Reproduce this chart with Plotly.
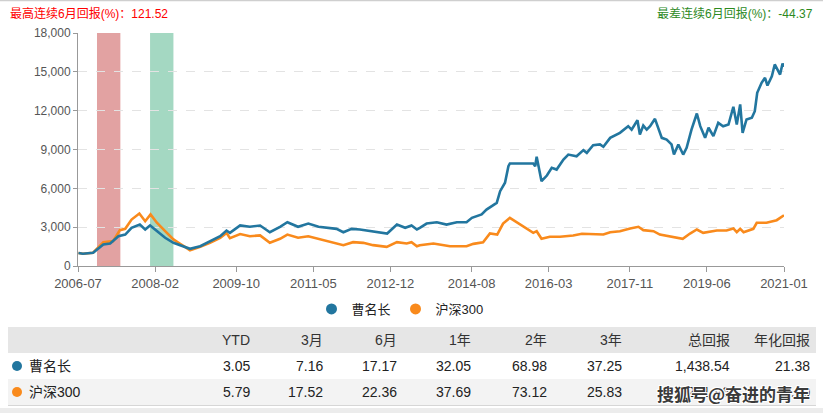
import plotly.graph_objects as go

# ---------------- data ----------------
fund_name = "曹名长"
index_name = "沪深300"

# x values are decimal years
fund_x = [2006.51, 2006.60, 2006.81, 2007.02, 2007.16, 2007.33, 2007.47, 2007.60, 2007.77, 2007.88,
          2007.98, 2008.12, 2008.29, 2008.46, 2008.66, 2008.80, 2009.01, 2009.21, 2009.42, 2009.55,
          2009.62, 2009.83, 2010.03, 2010.24, 2010.44, 2010.65, 2010.80, 2011.02, 2011.23, 2011.44,
          2011.68, 2011.81, 2011.95, 2012.12, 2012.29, 2012.50, 2012.70, 2012.85, 2013.05, 2013.22,
          2013.35, 2013.46, 2013.52, 2013.66, 2013.87, 2014.07, 2014.28, 2014.48, 2014.59, 2014.79,
          2014.89, 2015.10, 2015.17, 2015.27, 2015.34, 2015.37, 2015.85, 2015.89, 2015.92, 2016.02,
          2016.13, 2016.23, 2016.33, 2016.47, 2016.57, 2016.74, 2016.88, 2016.95, 2017.08, 2017.22,
          2017.29, 2017.43, 2017.63, 2017.80, 2017.87, 2017.99, 2018.04, 2018.11, 2018.18, 2018.25,
          2018.35, 2018.42, 2018.49, 2018.59, 2018.69, 2018.74, 2018.83, 2018.93, 2019.00, 2019.10,
          2019.21, 2019.28, 2019.38, 2019.45, 2019.55, 2019.65, 2019.75, 2019.86, 2019.96, 2020.03,
          2020.10, 2020.15, 2020.23, 2020.34, 2020.40, 2020.45, 2020.54, 2020.61, 2020.66, 2020.75,
          2020.81, 2020.92, 2020.97, 2021.00]
fund_y = [1000, 950, 1020, 1660, 1740, 2300, 2430, 2950, 3200, 2820,
          3130, 2690, 2180, 1790, 1530, 1330, 1530, 1920, 2300, 2740,
          2560, 3130, 3030, 3130, 2610, 3030, 3380, 3030, 3280, 3030,
          2950, 2870, 2610, 2870, 2820, 2690, 2560, 2510, 3200, 2950,
          3130, 2820, 2950, 3280, 3380, 3200, 3380, 3380, 3720, 3980,
          4360, 4880, 5780, 6430, 7710, 7920, 7920, 7710, 8440, 6550,
          6990, 7590, 7450, 8230, 8610, 8480, 8950, 8740, 9330, 9390,
          9210, 9900, 10290, 10800, 10540, 11260, 10160, 10850, 10540, 10800,
          11370, 10540, 9900, 9770, 9390, 8610, 9390, 8610, 9130, 10540,
          11780, 10800, 9900, 10680, 10030, 11060, 10800, 10930, 12300, 10930,
          12480, 10290, 11320, 11450, 11960, 13380, 14150, 14540, 13940, 14660,
          15570, 14790, 15650, 15385]

index_x = [2006.51, 2006.60, 2006.81, 2007.02, 2007.22, 2007.36, 2007.47, 2007.60, 2007.76, 2007.88,
           2007.99, 2008.12, 2008.29, 2008.46, 2008.59, 2008.80, 2009.01, 2009.21, 2009.42, 2009.55,
           2009.62, 2009.83, 2010.03, 2010.24, 2010.44, 2010.65, 2010.80, 2011.02, 2011.23, 2011.47,
           2011.68, 2011.95, 2012.15, 2012.36, 2012.56, 2012.84, 2013.05, 2013.25, 2013.35, 2013.46,
           2013.52, 2013.80, 2014.14, 2014.48, 2014.62, 2014.82, 2014.96, 2015.11, 2015.23, 2015.37,
           2015.85, 2015.92, 2016.02, 2016.19, 2016.40, 2016.67, 2016.85, 2017.08, 2017.29, 2017.43,
           2017.63, 2017.84, 2018.01, 2018.11, 2018.32, 2018.45, 2018.66, 2018.92, 2019.07, 2019.21,
           2019.34, 2019.62, 2019.82, 2019.96, 2020.03, 2020.10, 2020.17, 2020.37, 2020.44, 2020.64,
           2020.85, 2021.00]
index_y = [1000, 950, 1030, 1840, 1920, 2770, 2870, 3590, 4050, 3460,
           3980, 3340, 2690, 2050, 1740, 1220, 1480, 1790, 2180, 2560,
           2150, 2470, 2300, 2360, 1790, 2100, 2430, 2180, 2300, 2050,
           1840, 1610, 1840, 1790, 1610, 1480, 1840, 1740, 1840, 1530,
           1610, 1740, 1530, 1530, 1710, 1840, 2510, 2430, 3280, 3720,
           2560, 2690, 2100, 2260, 2260, 2360, 2490, 2430, 2430, 2610,
           2690, 2900, 3030, 2770, 2690, 2430, 2300, 2100, 2510, 2820,
           2560, 2740, 2740, 2900, 2610, 2870, 2610, 2870, 3340, 3340,
           3540, 3920]

# best / worst rolling 6-month windows (decimal years)
best_window = (2006.89, 2007.37)
worst_window = (2007.98, 2008.46)
best_text = "最高连续6月回报(%)：121.52"
worst_text = "最差连续6月回报(%)：-44.37"

tick_labels = ["2006-07", "2008-02", "2009-10", "2011-05", "2012-12",
               "2014-08", "2016-03", "2017-11", "2019-06", "2021-01"]
y_ticks = [0, 3000, 6000, 9000, 12000, 15000, 18000]

table_header = ["YTD", "3月", "6月", "1年", "2年", "3年", "总回报", "年化回报"]
fund_returns = ["3.05", "7.16", "17.17", "32.05", "68.98", "37.25", "1,438.54", "21.38"]
index_returns = ["5.79", "17.52", "22.36", "37.69", "73.12", "25.83", "291.96", "9.90"]
watermark = "搜狐号@奋进的青年"

# ---------------- styling ----------------
BLUE = "#22769f"
ORANGE = "#f98a1c"
FONT = "Liberation Sans, Noto Sans CJK SC, sans-serif"
W, H = 823, 413
L, R, T, B = 78, 784, 33, 266   # plot area in pixels


def px(xp):
    return (xp - L) / (R - L)


def py(yp):
    return (B - yp) / (B - T)


def ym_to_year(s):
    y, m = s.split("-")
    return int(y) + (int(m) - 1) / 12


fig = go.Figure()

fig.add_trace(go.Scatter(x=index_x, y=index_y, mode="lines", line=dict(color=ORANGE, width=2.6),
                         showlegend=False, name=index_name))
fig.add_trace(go.Scatter(x=fund_x, y=fund_y, mode="lines", line=dict(color=BLUE, width=2.6),
                         showlegend=False, name=fund_name))

# legend entries as dots
fig.add_trace(go.Scatter(x=[None], y=[None], mode="markers", name=fund_name,
                         marker=dict(color=BLUE, size=11)))
fig.add_trace(go.Scatter(x=[None], y=[None], mode="markers", name=index_name,
                         marker=dict(color=ORANGE, size=11)))

shapes = []
shapes.append(dict(type="rect", xref="x", yref="paper", x0=best_window[0], x1=best_window[1],
                   y0=0, y1=1, fillcolor="#e2a2a2", line=dict(width=0), layer="below"))
shapes.append(dict(type="rect", xref="x", yref="paper", x0=worst_window[0], x1=worst_window[1],
                   y0=0, y1=1, fillcolor="#a4d8c2", line=dict(width=0), layer="below"))

# table backgrounds
tx0, tx1 = px(8), px(816)
shapes.append(dict(type="rect", xref="paper", yref="paper", x0=tx0, x1=tx1, y0=py(353), y1=py(327),
                   fillcolor="#e6e6e6", line=dict(width=0)))
shapes.append(dict(type="rect", xref="paper", yref="paper", x0=tx0, x1=tx1, y0=py(405), y1=py(379),
                   fillcolor="#f3f3f3", line=dict(width=0)))
shapes.append(dict(type="line", xref="paper", yref="paper", x0=tx0, x1=tx1, y0=py(405.5), y1=py(405.5),
                   line=dict(color="#d6d6d6", width=1)))
# frame
shapes.append(dict(type="rect", xref="paper", yref="paper", x0=px(0), x1=px(W), y0=py(413), y1=py(408),
                   fillcolor="#ececec", line=dict(width=0)))
shapes.append(dict(type="line", xref="paper", yref="paper", x0=px(0), x1=px(W), y0=py(0.5), y1=py(0.5),
                   line=dict(color="#cfcfcf", width=1.5)))

annotations = []
annotations.append(dict(text=best_text, xref="paper", yref="paper", x=px(8), y=py(14),
                        xanchor="left", yanchor="middle", showarrow=False,
                        font=dict(size=12, color="#ff0000", family=FONT)))
annotations.append(dict(text=worst_text, xref="paper", yref="paper", x=px(815), y=py(14),
                        xanchor="right", yanchor="middle", showarrow=False,
                        font=dict(size=12, color="#2d8a1e", family=FONT)))

col_right = [252, 325, 399, 473, 549, 624, 732, 812]
for cx, h in zip(col_right, table_header):
    annotations.append(dict(text=h, xref="paper", yref="paper", x=px(cx), y=py(340),
                            xanchor="right", yanchor="middle", showarrow=False,
                            font=dict(size=14, color="#333", family=FONT)))
for row_y, name, color, vals in [(366, fund_name, BLUE, fund_returns),
                                 (392, index_name, ORANGE, index_returns)]:
    shapes.append(dict(type="circle", xref="paper", yref="paper",
                       x0=px(12), x1=px(22), y0=py(row_y + 5), y1=py(row_y - 5),
                       fillcolor=color, line=dict(width=0)))
    annotations.append(dict(text=name, xref="paper", yref="paper", x=px(27), y=py(row_y),
                            xanchor="left", yanchor="middle", showarrow=False,
                            font=dict(size=14, color="#222", family=FONT)))
    for cx, v in zip(col_right, vals):
        annotations.append(dict(text=v, xref="paper", yref="paper", x=px(cx), y=py(row_y),
                                xanchor="right", yanchor="middle", showarrow=False,
                                font=dict(size=14, color="#222", family=FONT)))

annotations.append(dict(text="<b>" + watermark + "</b>", xref="paper", yref="paper", x=px(812), y=py(393),
                        xanchor="right", yanchor="middle", showarrow=False,
                        font=dict(size=17, color="#3a3a3a", family="Noto Sans CJK SC",
                                  shadow="1px 1px 0 #fff, -1px -1px 0 #fff, 1px -1px 0 #fff, -1px 1px 0 #fff")))

fig.update_layout(
    width=W, height=H,
    margin=dict(l=L, r=W - R, t=T, b=H - B),
    paper_bgcolor="white", plot_bgcolor="white",
    font=dict(family=FONT, color="#555"),
    shapes=shapes, annotations=annotations,
    showlegend=True,
    legend=dict(orientation="h", x=px(400), xanchor="center", y=py(309), yanchor="middle",
                font=dict(size=13, color="#222", family=FONT), itemwidth=30,
                bgcolor="rgba(0,0,0,0)"),
    xaxis=dict(range=[2006.5, 2021.0], tickvals=[ym_to_year(s) for s in tick_labels],
               ticktext=tick_labels, showgrid=False, zeroline=False,
               showline=True, linecolor="#999", linewidth=1,
               ticks="outside", ticklen=5, tickcolor="#999",
               tickfont=dict(size=13, color="#555", family=FONT)),
    yaxis=dict(range=[0, 18000], tickvals=y_ticks, tickformat=",d",
               showgrid=True, gridcolor="#e3e3e3", griddash="dash", gridwidth=1,
               zeroline=False, showline=True, linecolor="#999", linewidth=1,
               ticks="outside", ticklen=4, tickcolor="#999",
               tickfont=dict(size=12, color="#555", family=FONT)),
)

fig.write_html("out.html", config={"displayModeBar": False},
               post_script="document.body.style.margin='0';")
